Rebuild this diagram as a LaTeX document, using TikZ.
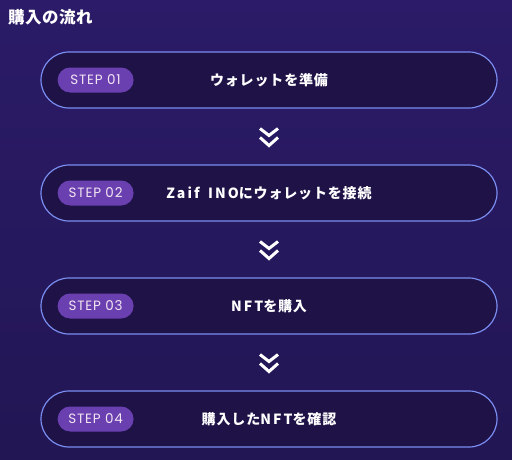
\documentclass[tikz,border=0pt]{standalone}
\usepackage{fontspec}
\usetikzlibrary{calc}
\newfontfamily\jpfont{Noto Sans CJK JP}[LetterSpace=3]
\newfontfamily\jpwide{Noto Sans CJK JP}[LetterSpace=6]
\newfontfamily\jplatin{Noto Sans CJK JP}[LetterSpace=15]
\newfontfamily\badgefont{Poppins}[LetterSpace=6]
\newcommand\latin[1]{{\jplatin\bfseries #1}}
\definecolor{bgtop}{HTML}{2B1B68}
\definecolor{bgbot}{HTML}{221654}
\definecolor{boxfill}{HTML}{1E1247}
\definecolor{boxline}{HTML}{7A8DF0}
\definecolor{badgefill}{HTML}{6A40B0}
\tikzset{
  stepbox/.style={draw=boxline, line width=1.2pt, fill=boxfill, rounded corners=28pt,
    minimum width=456pt, minimum height=56pt, text=white,
    font=\jpwide\fontsize{14}{16}\selectfont\bfseries},
  badge/.style={fill=badgefill, rounded corners=12.5pt, minimum width=76pt,
    minimum height=25pt, inner sep=0pt, text=white!90!violet,
    font=\badgefont\fontsize{13.5}{15}\selectfont},
  chevron/.style={draw=white, line width=3pt, line join=miter}
}
\begin{document}
\begin{tikzpicture}[x=1pt,y=-1pt]
  \shade[top color=bgtop, bottom color=bgbot] (0,0) rectangle (512,459);
  \useasboundingbox (0,0) rectangle (512,459);
  \node[anchor=base west, inner sep=0pt, text=white,
    font=\jpfont\fontsize{16.5}{19}\selectfont\bfseries] (title) at (8,23) {購入の流れ};
  \foreach \i/\txt in {1/{ウォレットを準備}, 2/{\latin{Zaif\hspace{3pt} INO}にウォレットを接続},
                       3/{\latin{NFT}を購入}, 4/{購入した\latin{NFT}を確認}} {
    \node[stepbox] (step\i) at (269,{80+113*(\i-1)}) {\txt};
    \node[badge, anchor=west] (badge\i) at ([xshift=17pt]step\i.west) {STEP 0\i};
  }
  % double chevrons between the steps
  \foreach \a/\b in {1/2,2/3,3/4} {
    \coordinate (mid\a) at ($(step\a.south)!0.5!(step\b.north)$);
    \draw[chevron] (mid\a) ++(-9,-8) -- ++(9,7) -- ++(9,-7);
    \draw[chevron] (mid\a) ++(-9,1) -- ++(9,8) -- ++(9,-8);
  }
\end{tikzpicture}
\end{document}
